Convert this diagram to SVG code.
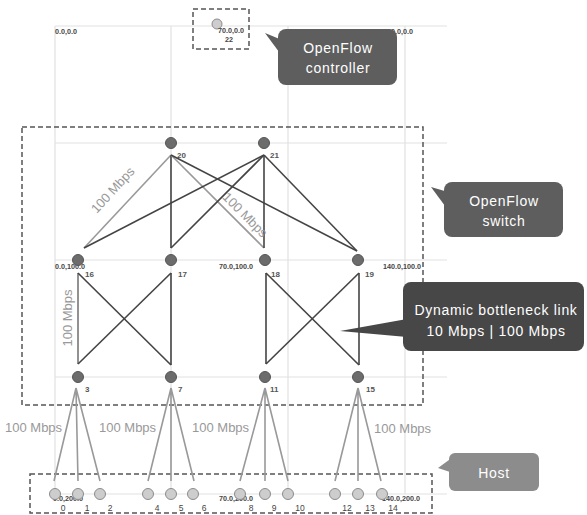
<svg xmlns="http://www.w3.org/2000/svg" width="587" height="515" viewBox="0 0 587 515">
<style>
.grid{stroke:#e2e2e2;stroke-width:1.2;fill:none}
.dash{stroke:#555;stroke-width:1.5;fill:none;stroke-dasharray:5 3}
.dk{stroke:#444;stroke-width:1.6;fill:none}
.gr{stroke:#999;stroke-width:1.6;fill:none}
.md{stroke:#777;stroke-width:1.6;fill:none}
.sw{fill:#6c6c6c;stroke:#555;stroke-width:1}
.ho{fill:#cdcdcd;stroke:#8c8c8c;stroke-width:1}
.co{font-family:"Liberation Sans",Arial,sans-serif;font-size:7.2px;font-weight:bold;fill:#444}
.num{font-family:"Liberation Sans",Arial,sans-serif;font-size:8px;font-weight:bold;fill:#555}
.hn{font-family:"Liberation Sans",Arial,sans-serif;font-size:8.5px;fill:#444;text-anchor:middle}
.bw{font-family:"Liberation Sans",Arial,sans-serif;font-size:13px;fill:#999}
.cl{font-family:"Liberation Sans",Arial,sans-serif;font-size:14px;fill:#fff;text-anchor:middle;letter-spacing:0.7px}
</style>
<rect width="587" height="515" fill="#fff"/>
<g id="grid">
<path class="grid" d="M55,26V494M171,26V494M288,26V494M405,26V494M55,26H447M55,143H447M55,260H447M55,377H447M55,494H447"/>
</g>
<g id="coords">
<text class="co" x="55" y="34">0.0,0.0</text>
<text class="co" x="383" y="34">140.0,0.0</text>
<text class="co" x="55" y="269">0.0,100.0</text>
<text class="co" x="219" y="269">70.0,100.0</text>
<text class="co" x="383" y="269">140.0,100.0</text>
<text class="co" x="53" y="501">0.0,200.0</text>
<text class="co" x="219" y="501">70.0,200.0</text>
<text class="co" x="382" y="501">140.0,200.0</text>
</g>
<g id="groups">
<rect class="dash" x="193" y="9" width="56" height="40"/>
<rect class="dash" x="22" y="127" width="401" height="278"/>
<rect class="dash" x="30" y="474" width="402" height="39"/>
</g>
<g id="connectors">
<line class="gr" x1="171" y1="155" x2="84" y2="248"/>
<line class="dk" x1="171" y1="155" x2="171" y2="248"/>
<line class="gr" x1="171" y1="155" x2="264" y2="248"/>
<line class="dk" x1="171" y1="155" x2="357" y2="251"/>
<line class="dk" x1="264" y1="155" x2="84" y2="248"/>
<line class="dk" x1="264" y1="155" x2="171" y2="248"/>
<line class="dk" x1="264" y1="155" x2="264" y2="248"/>
<line class="dk" x1="264" y1="155" x2="357" y2="251"/>
<line class="md" x1="78" y1="273" x2="78" y2="364"/>
<line class="dk" x1="78" y1="273" x2="171" y2="365"/>
<line class="dk" x1="171" y1="273" x2="78" y2="364"/>
<line class="dk" x1="171" y1="273" x2="171" y2="365"/>
<line class="dk" x1="266" y1="273" x2="266" y2="364"/>
<line class="dk" x1="266" y1="273" x2="359" y2="365"/>
<line class="dk" x1="359" y1="273" x2="266" y2="364"/>
<line class="dk" x1="359" y1="273" x2="359" y2="365"/>
<path class="gr" d="M76,388L54,481M76,388L78,481M76,388L100,481"/>
<path class="gr" d="M171,388L148,481M171,388L171,481M171,388L194,481"/>
<path class="gr" d="M265,388L240,481M265,388L265,481M265,388L288,481"/>
<path class="gr" d="M358,388L335,481M358,388L358,481M358,388L381,481"/>
<text class="bw" transform="translate(116,193) rotate(-47.5)" text-anchor="middle">100 Mbps</text>
<text class="bw" transform="translate(242,218) rotate(45)" text-anchor="middle">100 Mbps</text>
<text class="bw" transform="translate(72,318) rotate(-90)" text-anchor="middle">100 Mbps</text>
<text class="bw" x="5" y="432">100 Mbps</text>
<text class="bw" x="99" y="432">100 Mbps</text>
<text class="bw" x="192" y="432">100 Mbps</text>
<text class="bw" x="374" y="433">100 Mbps</text>
</g>
<g id="n22"><circle class="ho" cx="217" cy="24" r="5"/><text class="co" x="218" y="33">70.0,0.0</text><text class="co" x="229" y="42" text-anchor="middle">22</text></g>
<g id="n20"><circle class="sw" cx="171" cy="143" r="5.5"/><text class="num" x="177" y="158">20</text></g>
<g id="n21"><circle class="sw" cx="264" cy="143" r="5.5"/><text class="num" x="270" y="158">21</text></g>
<g id="n16"><circle class="sw" cx="78" cy="260" r="5.5"/><text class="num" x="85" y="277">16</text></g>
<g id="n17"><circle class="sw" cx="171" cy="260" r="5.5"/><text class="num" x="178" y="277">17</text></g>
<g id="n18"><circle class="sw" cx="265" cy="260" r="5.5"/><text class="num" x="271" y="277">18</text></g>
<g id="n19"><circle class="sw" cx="358" cy="260" r="5.5"/><text class="num" x="365" y="277">19</text></g>
<g id="n3"><circle class="sw" cx="78" cy="377" r="5.5"/><text class="num" x="85" y="392">3</text></g>
<g id="n7"><circle class="sw" cx="171" cy="377" r="5.5"/><text class="num" x="178" y="392">7</text></g>
<g id="n11"><circle class="sw" cx="265" cy="377" r="5.5"/><text class="num" x="270" y="392">11</text></g>
<g id="n15"><circle class="sw" cx="358" cy="377" r="5.5"/><text class="num" x="366" y="392">15</text></g>
<g id="h0"><circle class="ho" cx="55" cy="494" r="5.5"/><text class="hn" x="63" y="511">0</text></g>
<g id="h1"><circle class="ho" cx="78" cy="494" r="5.5"/><text class="hn" x="87" y="511">1</text></g>
<g id="h2"><circle class="ho" cx="100" cy="494" r="5.5"/><text class="hn" x="110" y="511">2</text></g>
<g id="h4"><circle class="ho" cx="148" cy="494" r="5.5"/><text class="hn" x="157" y="511">4</text></g>
<g id="h5"><circle class="ho" cx="171" cy="494" r="5.5"/><text class="hn" x="181" y="511">5</text></g>
<g id="h6"><circle class="ho" cx="193" cy="494" r="5.5"/><text class="hn" x="204" y="511">6</text></g>
<g id="h8"><circle class="ho" cx="240" cy="494" r="5.5"/><text class="hn" x="251" y="511">8</text></g>
<g id="h9"><circle class="ho" cx="265" cy="494" r="5.5"/><text class="hn" x="274" y="511">9</text></g>
<g id="h10"><circle class="ho" cx="288" cy="494" r="5.5"/><text class="hn" x="300" y="511">10</text></g>
<g id="h12"><circle class="ho" cx="335" cy="494" r="5.5"/><text class="hn" x="347" y="511">12</text></g>
<g id="h13"><circle class="ho" cx="358" cy="494" r="5.5"/><text class="hn" x="370" y="511">13</text></g>
<g id="h14"><circle class="ho" cx="382" cy="494" r="5.5"/><text class="hn" x="393" y="511">14</text></g>
<g id="callout-controller">
<path d="M265,33L282,40L282,56Z" fill="#5e5e5e"/>
<rect x="278" y="29" width="119" height="56" rx="8" fill="#5e5e5e"/>
<text class="cl" x="338" y="53">OpenFlow</text>
<text class="cl" x="338" y="73">controller</text>
</g>
<g id="callout-switch">
<path d="M431,187L448,192L448,210Z" fill="#5e5e5e"/>
<rect x="444" y="182" width="119" height="55" rx="8" fill="#5e5e5e"/>
<text class="cl" x="504" y="206">OpenFlow</text>
<text class="cl" x="504" y="226">switch</text>
</g>
<g id="callout-bottleneck">
<path d="M340,331L407,319L407,337Z" fill="#474747"/>
<rect x="403" y="282" width="181" height="69" rx="8" fill="#474747"/>
<text class="cl" x="496" y="315">Dynamic bottleneck link</text>
<text class="cl" x="496" y="336">10 Mbps | 100 Mbps</text>
</g>
<g id="callout-host">
<path d="M438,468L453,457L453,473Z" fill="#8c8c8c"/>
<rect x="449" y="453" width="90" height="38" rx="6" fill="#8c8c8c"/>
<text class="cl" x="494" y="478">Host</text>
</g>
</svg>
